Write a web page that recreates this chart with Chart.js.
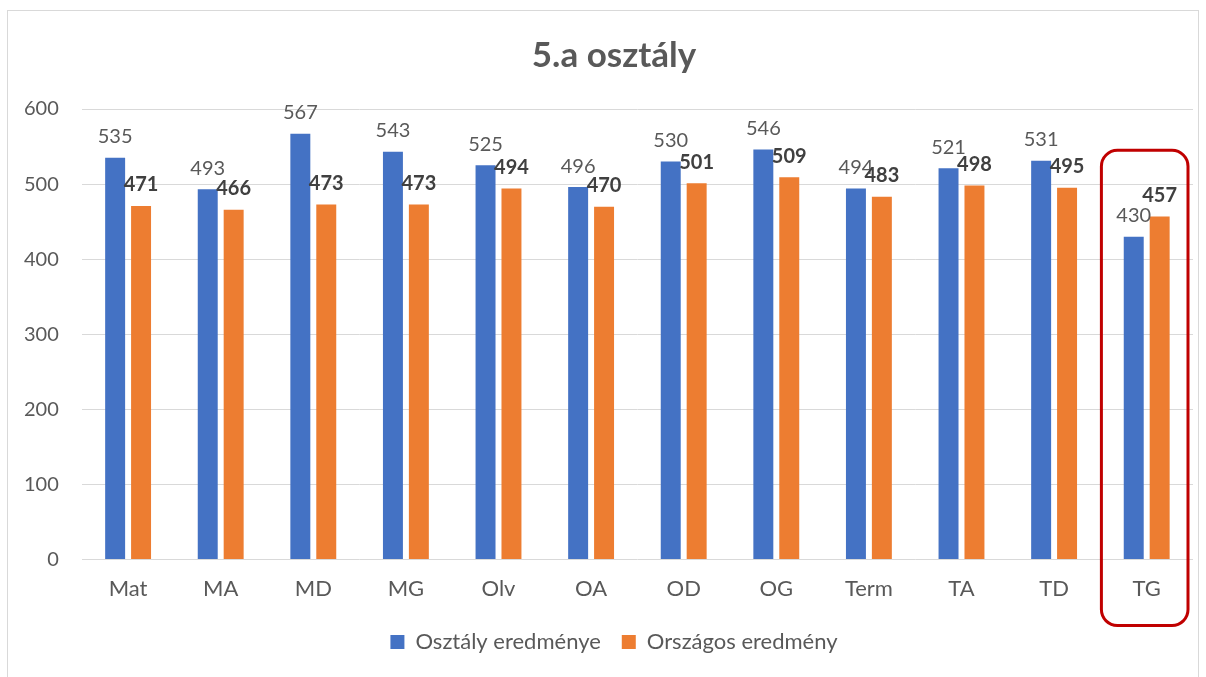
<!DOCTYPE html>
<html><head><meta charset="utf-8">
<script src="https://cdn.jsdelivr.net/npm/chart.js@4"></script>
<style>
html,body{margin:0;padding:0;background:#fff;overflow:hidden;}
#wrap{position:relative;width:1206px;height:677px;overflow:hidden;}
#frame{position:absolute;left:7px;top:10px;width:1192px;height:680px;border:1px solid #d9d9d9;box-sizing:border-box;}
canvas{position:absolute;left:0;top:0;}
</style></head><body>
<div id="wrap"><div id="frame"></div><canvas id="c" width="1228" height="677"></canvas></div>
<script>
const categories = ["Mat","MA","MD","MG","Olv","OA","OD","OG","Term","TA","TD","TG"];
const osztaly = [535,493,567,543,525,496,530,546,494,521,531,430];
const orszagos = [471,466,473,473,494,470,501,509,483,498,495,457];
const yTicks = [0,100,200,300,400,500,600];
const highlightCategory = "TG";

const FONT = "Lato, 'Open Sans', sans-serif";
const GRAY = "#595959";

// centre title and legend on the whole (wider) chart object, as in the original
const centerPlugin = {
  id:'centerBlocks',
  afterLayout(chart){
    const mid = chart.width/2;
    [chart.titleBlock, chart.legend].forEach(b=>{
      if(!b) return;
      const d = mid - (b.left+b.right)/2;
      b.left += d; b.right += d;
    });
  }
};

const labelPlugin = {
  id:'labels',
  afterDatasetsDraw(chart){
    const ctx = chart.ctx;
    chart.data.datasets.forEach((ds,i)=>{
      const meta = chart.getDatasetMeta(i);
      meta.data.forEach((bar,j)=>{
        ctx.save();
        ctx.font = (i===1?'bold ':'') + '20px ' + FONT;
        ctx.fillStyle = i===1 ? '#404040' : GRAY;
        ctx.textAlign='center';
        ctx.textBaseline='bottom';
        ctx.fillText(String(ds.data[j]), bar.x, bar.y-11);
        ctx.restore();
      });
    });
  }
};
const highlightPlugin = {
  id:'highlight',
  afterDraw(chart){
    const idx = categories.indexOf(highlightCategory);
    const xs = chart.scales.x, ys = chart.scales.y;
    const cx = xs.getPixelForValue(idx);
    const half = xs.width/categories.length/2 - 2;
    const x0 = cx-half-1, x1 = cx+half-3;
    const y0 = ys.getPixelForValue(545), y1 = chart.chartArea.bottom+66;
    const ctx = chart.ctx;
    ctx.save();
    ctx.strokeStyle='#c00000';
    ctx.lineWidth=3;
    ctx.beginPath();
    ctx.roundRect(x0,y0,x1-x0,y1-y0,16);
    ctx.stroke();
    ctx.restore();
  }
};

new Chart(document.getElementById('c'),{
  type:'bar',
  data:{
    labels:categories,
    datasets:[
      {label:'Osztály eredménye',data:osztaly,backgroundColor:'#4472c4',categoryPercentage:0.56,barPercentage:0.77},
      {label:'Országos eredmény',data:orszagos,backgroundColor:'#ed7d31',categoryPercentage:0.56,barPercentage:0.77}
    ]
  },
  options:{
    responsive:false,
    animation:false,
    layout:{padding:{left:1,right:35,top:0,bottom:14}},
    scales:{
      x:{
        grid:{display:false},
        border:{display:false},
        ticks:{color:GRAY,font:{family:FONT,size:22},padding:8}
      },
      y:{
        min:0,max:600,
        afterBuildTicks(s){s.ticks = yTicks.map(v=>({value:v}));},
        grid:{color:'#d9d9d9',lineWidth:1,drawTicks:false},
        border:{display:false},
        ticks:{color:GRAY,font:{family:FONT,size:20},padding:23}
      }
    },
    plugins:{
      title:{display:true,text:'5.a osztály',color:GRAY,font:{family:FONT,size:35,weight:'bold'},padding:{top:35,bottom:32}},
      legend:{position:'bottom',labels:{color:GRAY,font:{family:FONT,size:22},boxWidth:14,boxHeight:14,padding:21}},
      tooltip:{enabled:false}
    }
  },
  plugins:[centerPlugin,labelPlugin,highlightPlugin]
});
</script>
</body></html>
